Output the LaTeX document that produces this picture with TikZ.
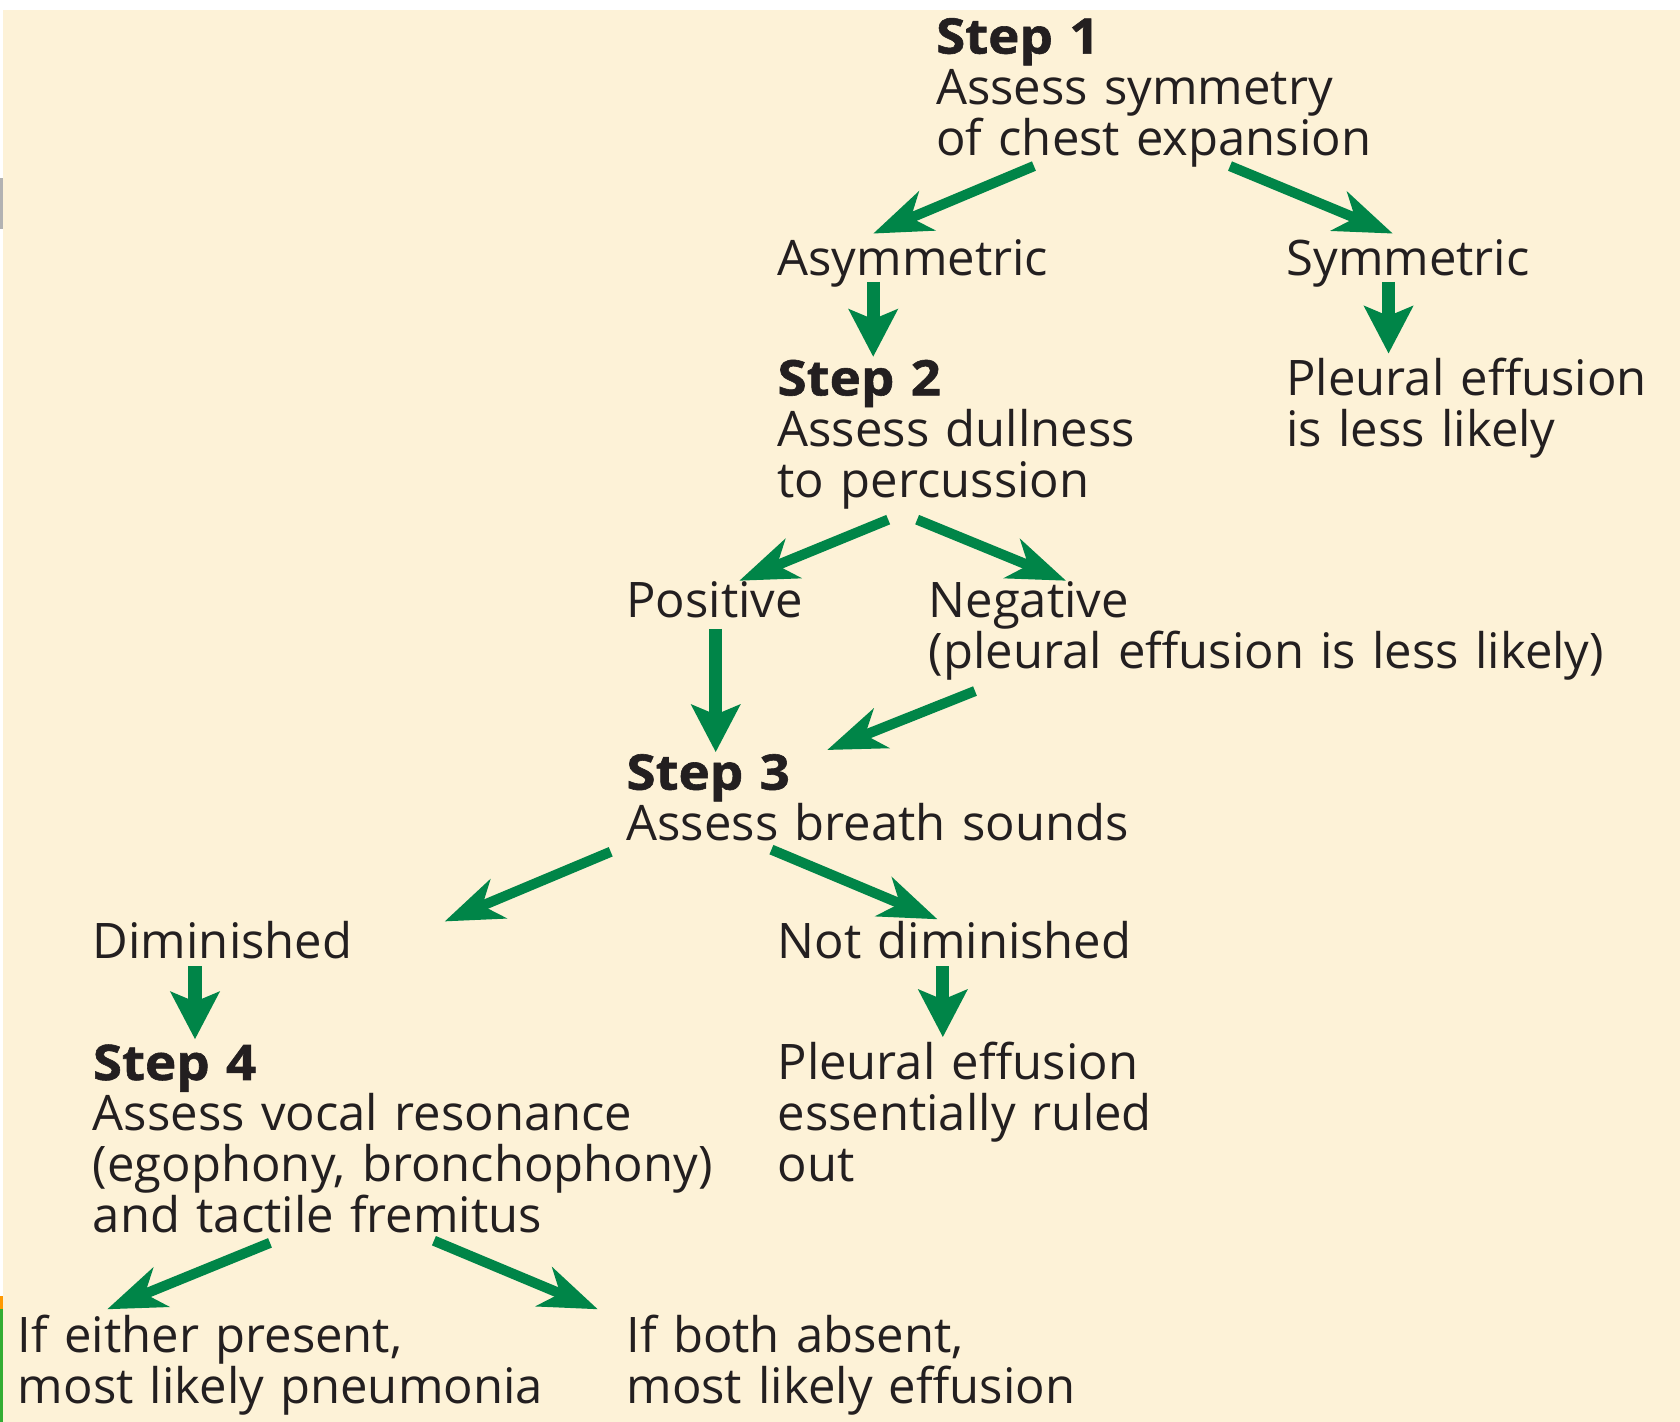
\documentclass[tikz,border=0pt]{standalone}
\usepackage{fontspec}
\setmainfont{Open Sans}[BoldFeatures={FakeBold=1.2,FakeStretch=1.08}]
\usetikzlibrary{arrows.meta}

\definecolor{flowgreen}{RGB}{0,133,72}
\definecolor{cream}{RGB}{253,242,215}
\definecolor{ink}{RGB}{35,31,32}

\begin{document}
\begin{tikzpicture}[x=0.01cm,y=-0.01cm,
                    flow/.style={draw=flowgreen,line width=2.7pt,-{Stealth[length=5.4mm,width=3.9mm,inset=1.6mm]}},
                    drop/.style={draw=flowgreen,line width=3.5pt,-{Stealth[length=4.4mm,width=4.5mm,inset=0.9mm]}},
                    main node/.style={anchor=base west,inner sep=0pt,text width=6.5cm,align=left,
                                      text=ink,font=\fontsize{13}{13.5}\selectfont}]
  \useasboundingbox (0,0) rectangle (1568,1327);
  \fill[cream] (3,9) rectangle (1568,1327);
  % edge strips
  \fill[black!30] (0,166) rectangle (3,214);
  \fill[orange!80!yellow] (0,1210) rectangle (3,1222);
  \fill[green!60!black!80] (0,1222) rectangle (3,1327);

  \node[main node] (1) at (873,50) {\textbf{Step 1}\\Assess symmetry\\of chest expansion};
  \node[main node] (2) at (725,257) {Asymmetric};
  \node[main node] (3) at (1200,257) {Symmetric};
  \node[main node] (4) at (725,369) {\textbf{Step 2}\\Assess dullness\\to percussion};
  \node[main node] (5) at (1200,369) {Pleural effusion\\is less likely};
  \node[main node] (6) at (584,576) {Positive};
  \node[main node] (7) at (866,576) {Negative\\(pleural effusion is less likely)};
  \node[main node] (8) at (584,737) {\textbf{Step 3}\\Assess breath sounds};
  \node[main node] (9) at (86,895) {Diminished};
  \node[main node] (10) at (725,895) {Not diminished};
  \node[main node] (11) at (86,1008) {\textbf{Step 4}\\Assess vocal resonance\\(egophony, bronchophony)\\and tactile fremitus};
  \node[main node] (12) at (725,1008) {Pleural effusion\\essentially ruled\\out};
  \node[main node] (13) at (16,1262) {If either present,\\most likely pneumonia};
  \node[main node] (14) at (584,1262) {If both absent,\\most likely effusion};

  \path[every edge/.style={flow}]
    ([shift={(92,105)}]1.base west) edge ([shift={(90,-39)}]2.base west)
    ([shift={(275,105)}]1.base west) edge ([shift={(100,-39)}]3.base west)
    ([shift={(90,6)}]2.base west) edge[drop] ([shift={(90,-36)}]4.base west)
    ([shift={(96,6)}]3.base west) edge[drop] ([shift={(96,-39)}]5.base west)
    ([shift={(104,116)}]4.base west) edge ([shift={(106,-34)}]6.base west)
    ([shift={(131,116)}]4.base west) edge ([shift={(129,-34)}]7.base west)
    ([shift={(84,11)}]6.base west) edge[drop] ([shift={(84,-35)}]8.base west)
    ([shift={(44,69)}]7.base west) edge ([shift={(188,-37)}]8.base west)
    ([shift={(-14,58)}]8.base west) edge ([shift={(329,-35)}]9.base west)
    ([shift={(136,56)}]8.base west) edge ([shift={(150,-37)}]10.base west)
    ([shift={(96,7)}]9.base west) edge[drop] ([shift={(96,-38)}]11.base west)
    ([shift={(155,7)}]10.base west) edge[drop] ([shift={(155,-40)}]12.base west)
    ([shift={(166,152)}]11.base west) edge ([shift={(84,-40)}]13.base west)
    ([shift={(319,150)}]11.base west) edge ([shift={(-26,-40)}]14.base west);
\end{tikzpicture}
\end{document}
